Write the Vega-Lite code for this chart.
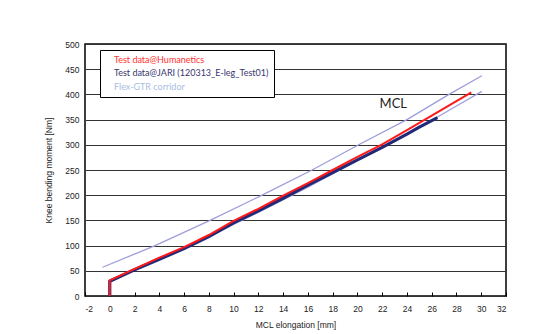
{
  "$schema": "https://vega.github.io/schema/vega-lite/v6.json",
  "width": 421,
  "height": 252,
  "autosize": {"type": "none"},
  "padding": {"left": 85, "top": 44, "right": 34, "bottom": 38},
  "background": "white",
  "config": {
    "view": {"stroke": "#000", "strokeWidth": 1.5},
    "axis": {"labelFont": "Liberation Sans", "titleFont": "Liberation Sans", "labelFontSize": 8.5, "titleFontSize": 8.5, "labelColor": "#222", "titleColor": "#222", "titleFontWeight": "normal", "domain": false}
  },
  "data": {"values": [
    {"s": "Flex-GTR corridor", "g": "upper", "i": 1, "x": -0.58, "y": 57},
    {"s": "Flex-GTR corridor", "g": "upper", "i": 2, "x": 3.66, "y": 100},
    {"s": "Flex-GTR corridor", "g": "upper", "i": 3, "x": 8.1, "y": 150},
    {"s": "Flex-GTR corridor", "g": "upper", "i": 4, "x": 12.3, "y": 200},
    {"s": "Flex-GTR corridor", "g": "upper", "i": 5, "x": 16.34, "y": 250},
    {"s": "Flex-GTR corridor", "g": "upper", "i": 6, "x": 20.1, "y": 300},
    {"s": "Flex-GTR corridor", "g": "upper", "i": 7, "x": 24.0, "y": 350},
    {"s": "Flex-GTR corridor", "g": "upper", "i": 8, "x": 27.4, "y": 400},
    {"s": "Flex-GTR corridor", "g": "upper", "i": 9, "x": 30.05, "y": 437},
    {"s": "Flex-GTR corridor", "g": "lower", "i": 1, "x": 0, "y": 32},
    {"s": "Flex-GTR corridor", "g": "lower", "i": 2, "x": 4, "y": 73},
    {"s": "Flex-GTR corridor", "g": "lower", "i": 3, "x": 8, "y": 118},
    {"s": "Flex-GTR corridor", "g": "lower", "i": 4, "x": 12, "y": 166},
    {"s": "Flex-GTR corridor", "g": "lower", "i": 5, "x": 16, "y": 216},
    {"s": "Flex-GTR corridor", "g": "lower", "i": 6, "x": 20, "y": 269},
    {"s": "Flex-GTR corridor", "g": "lower", "i": 7, "x": 24, "y": 320},
    {"s": "Flex-GTR corridor", "g": "lower", "i": 8, "x": 28, "y": 377},
    {"s": "Flex-GTR corridor", "g": "lower", "i": 9, "x": 30.05, "y": 406},
    {"s": "Test data@JARI (120313_E-leg_Test01)", "g": "jari", "i": 1, "x": 0, "y": 0},
    {"s": "Test data@JARI (120313_E-leg_Test01)", "g": "jari", "i": 2, "x": 0, "y": 29},
    {"s": "Test data@JARI (120313_E-leg_Test01)", "g": "jari", "i": 3, "x": 2, "y": 52},
    {"s": "Test data@JARI (120313_E-leg_Test01)", "g": "jari", "i": 4, "x": 4, "y": 73},
    {"s": "Test data@JARI (120313_E-leg_Test01)", "g": "jari", "i": 5, "x": 6, "y": 94},
    {"s": "Test data@JARI (120313_E-leg_Test01)", "g": "jari", "i": 6, "x": 8, "y": 118},
    {"s": "Test data@JARI (120313_E-leg_Test01)", "g": "jari", "i": 7, "x": 10, "y": 145},
    {"s": "Test data@JARI (120313_E-leg_Test01)", "g": "jari", "i": 8, "x": 12, "y": 169},
    {"s": "Test data@JARI (120313_E-leg_Test01)", "g": "jari", "i": 9, "x": 14, "y": 194},
    {"s": "Test data@JARI (120313_E-leg_Test01)", "g": "jari", "i": 10, "x": 16, "y": 220},
    {"s": "Test data@JARI (120313_E-leg_Test01)", "g": "jari", "i": 11, "x": 18, "y": 245},
    {"s": "Test data@JARI (120313_E-leg_Test01)", "g": "jari", "i": 12, "x": 20, "y": 270},
    {"s": "Test data@JARI (120313_E-leg_Test01)", "g": "jari", "i": 13, "x": 22, "y": 295},
    {"s": "Test data@JARI (120313_E-leg_Test01)", "g": "jari", "i": 14, "x": 24, "y": 321},
    {"s": "Test data@JARI (120313_E-leg_Test01)", "g": "jari", "i": 15, "x": 25, "y": 335},
    {"s": "Test data@JARI (120313_E-leg_Test01)", "g": "jari", "i": 16, "x": 26, "y": 348},
    {"s": "Test data@JARI (120313_E-leg_Test01)", "g": "jari", "i": 17, "x": 26.46, "y": 354},
    {"s": "Test data@Humanetics", "g": "hum", "i": 1, "x": 0, "y": 0},
    {"s": "Test data@Humanetics", "g": "hum", "i": 2, "x": 0, "y": 31},
    {"s": "Test data@Humanetics", "g": "hum", "i": 3, "x": 2, "y": 54},
    {"s": "Test data@Humanetics", "g": "hum", "i": 4, "x": 4, "y": 76},
    {"s": "Test data@Humanetics", "g": "hum", "i": 5, "x": 6, "y": 97},
    {"s": "Test data@Humanetics", "g": "hum", "i": 6, "x": 8, "y": 121},
    {"s": "Test data@Humanetics", "g": "hum", "i": 7, "x": 10, "y": 149},
    {"s": "Test data@Humanetics", "g": "hum", "i": 8, "x": 12, "y": 173},
    {"s": "Test data@Humanetics", "g": "hum", "i": 9, "x": 14, "y": 199},
    {"s": "Test data@Humanetics", "g": "hum", "i": 10, "x": 16, "y": 224},
    {"s": "Test data@Humanetics", "g": "hum", "i": 11, "x": 18, "y": 250},
    {"s": "Test data@Humanetics", "g": "hum", "i": 12, "x": 20, "y": 276},
    {"s": "Test data@Humanetics", "g": "hum", "i": 13, "x": 22, "y": 301},
    {"s": "Test data@Humanetics", "g": "hum", "i": 14, "x": 24, "y": 329},
    {"s": "Test data@Humanetics", "g": "hum", "i": 15, "x": 26, "y": 358},
    {"s": "Test data@Humanetics", "g": "hum", "i": 16, "x": 29.2, "y": 404}
  ]},
  "encoding": {
    "x": {"field": "x", "type": "quantitative", "scale": {"domain": [-2, 32], "nice": false, "zero": false},
      "axis": {"title": "MCL elongation [mm]", "values": [-2,0,2,4,6,8,10,12,14,16,18,20,22,24,26,28,30,32], "labelExpr": "replace(datum.label, '−', '-')", "grid": false, "ticks": true, "tickSize": -4, "tickColor": "#000", "labelPadding": 12, "titlePadding": 8}},
    "y": {"field": "y", "type": "quantitative", "scale": {"domain": [0, 500], "nice": false},
      "axis": {"title": "Knee bending moment [Nm]", "values": [0,50,100,150,200,250,300,350,400,450,500], "grid": true, "gridColor": "#333", "gridWidth": 1, "gridOpacity": 1, "ticks": false, "labelPadding": 6, "titlePadding": 11}}
  },
  "layer": [
    {
      "transform": [{"filter": "datum.s === 'Flex-GTR corridor'"}],
      "mark": {"type": "line", "strokeWidth": 1.3},
      "encoding": {
        "detail": {"field": "g"},
        "order": {"field": "i"},
        "color": {"field": "s", "type": "nominal",
          "scale": {"domain": ["Test data@Humanetics", "Test data@JARI (120313_E-leg_Test01)", "Flex-GTR corridor"], "range": ["#ff1a1a", "#222a78", "#9d9ddc"]},
          "legend": {"title": null, "orient": "none", "legendX": 15, "legendY": 6, "symbolSize": 0, "symbolOpacity": 0, "symbolStrokeWidth": 0, "labelOffset": 0, "labelFont": "Lato", "labelFontSize": 9, "labelLimit": 400, "rowPadding": 3.7, "padding": 5, "strokeColor": "#000", "fillColor": "#fff", "cornerRadius": 0,
            "encoding": {"labels": {"fill": {"condition": [{"test": "datum.value === 'Test data@Humanetics'", "value": "#ff3030"}, {"test": "datum.value === 'Flex-GTR corridor'", "value": "#a9bde2"}], "value": "#363670"}}}}
        }
      }
    },
    {
      "transform": [{"filter": "datum.g === 'jari'"}],
      "mark": {"type": "line", "strokeWidth": 3.2},
      "encoding": {"order": {"field": "i"}, "color": {"field": "s", "type": "nominal"}}
    },
    {
      "transform": [{"filter": "datum.g === 'hum'"}],
      "mark": {"type": "line", "strokeWidth": 2},
      "encoding": {"order": {"field": "i"}, "color": {"field": "s", "type": "nominal"}}
    },
    {
      "data": {"values": [{"x": 22.9, "y": 380, "label": "MCL"}]},
      "mark": {"type": "text", "font": "Lato", "fontSize": 13, "color": "#222", "align": "center", "baseline": "middle"},
      "encoding": {"text": {"field": "label"}}
    }
  ]
}
